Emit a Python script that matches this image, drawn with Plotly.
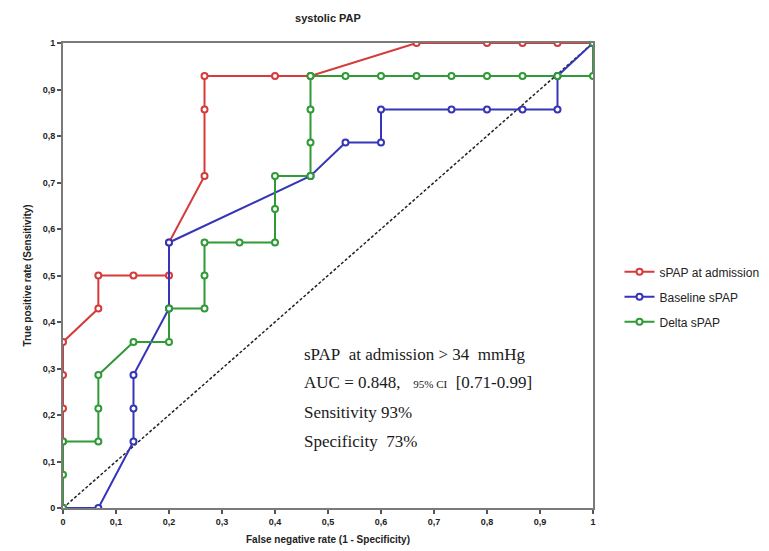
import plotly.graph_objects as go

# Data (x: 1 - specificity, y: sensitivity)
adm_x = [0, 0, 0, 0, 0, 0.0667, 0.0667, 0.133, 0.2, 0.2, 0.267, 0.267, 0.267, 0.4, 0.467, 0.667, 0.8, 0.867, 0.933, 1]
adm_y = [0, 0.143, 0.214, 0.286, 0.357, 0.429, 0.5, 0.5, 0.5, 0.571, 0.714, 0.857, 0.929, 0.929, 0.929, 1, 1, 1, 1, 1]

base_x = [0, 0.0667, 0.133, 0.133, 0.133, 0.2, 0.2, 0.467, 0.533, 0.6, 0.6, 0.733, 0.8, 0.867, 0.933, 0.933, 1]
base_y = [0, 0, 0.143, 0.214, 0.286, 0.429, 0.571, 0.714, 0.786, 0.786, 0.857, 0.857, 0.857, 0.857, 0.857, 0.929, 1]

delta_x = [0, 0, 0, 0.0667, 0.0667, 0.0667, 0.133, 0.2, 0.2, 0.267, 0.267, 0.267, 0.333, 0.4, 0.4, 0.4,
           0.467, 0.467, 0.467, 0.467, 0.533, 0.6, 0.667, 0.733, 0.8, 0.867, 0.933, 1, 1]
delta_y = [0, 0.0714, 0.143, 0.143, 0.214, 0.286, 0.357, 0.357, 0.429, 0.429, 0.5, 0.571, 0.571, 0.571, 0.643, 0.714,
           0.714, 0.786, 0.857, 0.929, 0.929, 0.929, 0.929, 0.929, 0.929, 0.929, 0.929, 0.929, 1]

ref_x = [0, 1]
ref_y = [0, 1]

tick_vals = [0, 0.1, 0.2, 0.3, 0.4, 0.5, 0.6, 0.7, 0.8, 0.9, 1]
tick_text = ["0", "0,1", "0,2", "0,3", "0,4", "0,5", "0,6", "0,7", "0,8", "0,9", "1"]

series = [
    ("sPAP at admission", adm_x, adm_y, "#d63a3a"),
    ("Baseline sPAP", base_x, base_y, "#3535b8"),
    ("Delta sPAP", delta_x, delta_y, "#2f9a36"),
]

fig = go.Figure()
fig.add_trace(go.Scatter(x=ref_x, y=ref_y, mode="lines", showlegend=False,
                         line=dict(color="#222222", width=1.5, dash="3px,2px"), hoverinfo="skip"))
for name, xs, ys, col in series:
    fig.add_trace(go.Scatter(
        x=xs, y=ys, mode="lines+markers", name=name, legendgroup=name,
        line=dict(color=col, width=2),
        marker=dict(symbol="circle", size=6, color="white", line=dict(color=col, width=2)),
    ))

ann_font = dict(family="Liberation Serif, DejaVu Serif, serif", size=17, color="#1a1a1a")
lines = [
    ("sPAP&nbsp;&nbsp;at admission &gt; 34&nbsp;&nbsp;mmHg", 0.331),
    ("AUC = 0.848,&nbsp;&nbsp;&nbsp;<span style='font-size:11px'>95% CI</span>&nbsp;&nbsp;[0.71-0.99]", 0.269),
    ("Sensitivity 93%", 0.206),
    ("Specificity&nbsp;&nbsp;73%", 0.144),
]
for txt, yy in lines:
    fig.add_annotation(x=0.451, y=yy, xref="x", yref="y", text=txt, showarrow=False,
                       xanchor="left", yanchor="middle", font=ann_font)

axis_common = dict(
    range=[0, 1], tickmode="array", tickvals=tick_vals, ticktext=tick_text,
    showgrid=False, zeroline=False, showline=True, linecolor="#7a7a7a", linewidth=2,
    mirror=True, ticks="outside", ticklen=4, tickwidth=1.5, tickcolor="#555555",
    tickfont=dict(family="Liberation Sans, Arial, sans-serif", size=9, color="#222222", weight="bold"),
    fixedrange=True, automargin=False,
)

W, H = 761, 543
fig.update_layout(
    width=W, height=H,
    margin=dict(l=55, r=176, t=35, b=43, autoexpand=False),
    paper_bgcolor="white", plot_bgcolor="white",
    title=dict(text="systolic PAP", x=0.5, xref="paper", xanchor="center", y=1 - 10 / H, yref="container",
               yanchor="middle",
               font=dict(family="Liberation Sans, Arial, sans-serif", size=11, color="#222222", weight="bold")),
    xaxis=dict(axis_common, title=dict(text="False negative rate (1 - Specificity)", standoff=10,
                                       font=dict(family="Liberation Sans, Arial, sans-serif", size=10,
                                                 color="#222222", weight="bold"))),
    yaxis=dict(axis_common, title=dict(text="True positive rate (Sensitivity)", standoff=9,
                                       font=dict(family="Liberation Sans, Arial, sans-serif", size=10,
                                                 color="#222222", weight="bold"))),
    legend=dict(x=1.05, y=0.539, xanchor="left", yanchor="top", bgcolor="rgba(0,0,0,0)",
                font=dict(family="Liberation Sans, Arial, sans-serif", size=12, color="#222222"),
                tracegroupgap=6, itemwidth=30),
    showlegend=True,
)

fig.write_html("out.html")
